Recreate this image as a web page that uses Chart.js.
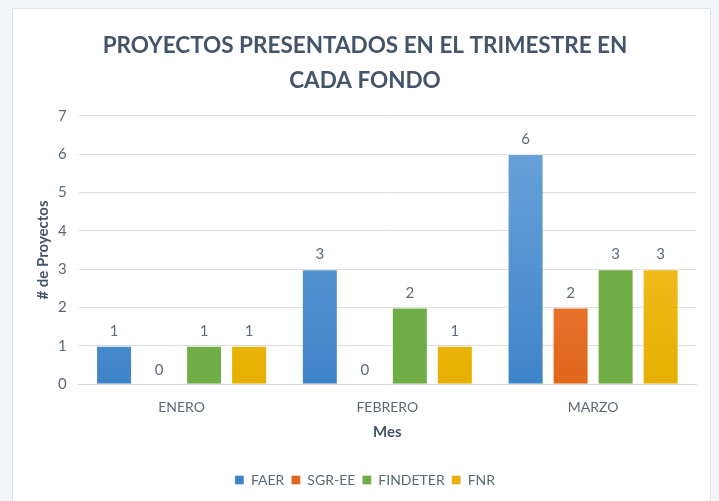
<!DOCTYPE html>
<html>
<head>
<meta charset="utf-8">
<script src="https://cdn.jsdelivr.net/npm/chart.js@4.4.1/dist/chart.umd.min.js"></script>
<style>
  html, body { margin: 0; padding: 0; background: #f3f5f8; width: 719px; height: 501px; overflow: hidden; }
  .panel { position: absolute; left: 12px; top: 8px; width: 699px; height: 500px; background: #fff; border: 1px solid #dde2e8; box-sizing: border-box; }
  canvas { display: block; }
</style>
</head>
<body>
<div class="panel"><canvas id="chart" width="697" height="498"></canvas></div>
<script>
const months = ['ENERO', 'FEBRERO', 'MARZO'];
const faer = [1, 3, 6];
const sgrEe = [0, 0, 2];
const findeter = [1, 2, 3];
const fnr = [1, 1, 3];

// top / bottom gradient colours per series
const seriesColors = [
    ['#6fa5dc', '#3f84c8'],
    ['#f08d58', '#e0661b'],
    ['#70ad47', '#70ad47'],
    ['#ffc73d', '#e5b000']
];

const textColor = '#5e6978';
const titleColor = '#44546a';
const fontFamily = 'Lato, "Open Sans", sans-serif';

function gradientFor(idx) {
    return (ctx) => {
        const area = ctx.chart.chartArea;
        if (!area) return seriesColors[idx][0];
        const g = ctx.chart.ctx.createLinearGradient(0, area.top, 0, area.bottom);
        g.addColorStop(0, seriesColors[idx][0]);
        g.addColorStop(1, seriesColors[idx][1]);
        return g;
    };
}

// draws the value above each bar
const valueLabels = {
    id: 'valueLabels',
    afterDatasetsDraw(chart) {
        const ctx = chart.ctx;
        ctx.save();
        ctx.font = '15px ' + fontFamily;
        ctx.fillStyle = textColor;
        ctx.textAlign = 'center';
        ctx.textBaseline = 'bottom';
        chart.data.datasets.forEach((ds, i) => {
            chart.getDatasetMeta(i).data.forEach((bar, j) => {
                ctx.fillText(ds.data[j], bar.x, bar.y - 7);
            });
        });
        ctx.restore();
    }
};

function makeSet(label, data, idx) {
    return {
        label,
        data,
        backgroundColor: gradientFor(idx),
        borderColor: 'rgba(255,255,255,0.35)',
        borderWidth: 1,
        categoryPercentage: 0.875,
        barPercentage: 0.8
    };
}

new Chart(document.getElementById('chart'), {
    type: 'bar',
    data: {
        labels: months,
        datasets: [
            makeSet('FAER', faer, 0),
            makeSet('SGR-EE', sgrEe, 1),
            makeSet('FINDETER', findeter, 2),
            makeSet('FNR', fnr, 3)
        ]
    },
    options: {
        responsive: false,
        animation: false,
        layout: { padding: { left: 21, right: 14, top: 6, bottom: 10 } },
        scales: {
            x: {
                grid: { display: false },
                border: { color: '#d9d9d9' },
                ticks: { color: textColor, font: { family: fontFamily, size: 14 }, padding: 7 },
                title: { display: true, text: 'Mes', color: titleColor, font: { family: fontFamily, size: 15, weight: 'bold' }, padding: { top: 0, bottom: 25 } }
            },
            y: {
                min: 0,
                max: 7,
                afterFit: (s) => { s.width -= 6; },
                ticks: { stepSize: 1, color: textColor, font: { family: fontFamily, size: 15 }, padding: 12 },
                grid: { color: '#dcdcdc', drawTicks: false },
                border: { display: false },
                title: { display: true, text: '# de Proyectos', color: titleColor, font: { family: fontFamily, size: 15, weight: 'bold' }, padding: 0 }
            }
        },
        plugins: {
            title: {
                display: true,
                text: ['PROYECTOS PRESENTADOS EN EL TRIMESTRE EN', 'CADA FONDO'],
                color: titleColor,
                font: { family: fontFamily, size: 22.5, weight: 'bold', lineHeight: 1.55 },
                padding: { top: 13, bottom: 18 }
            },
            legend: {
                position: 'bottom',
                labels: { boxWidth: 9, boxHeight: 9, color: textColor, font: { family: fontFamily, size: 14 }, padding: 7 }
            },
            tooltip: { enabled: false }
        }
    },
    plugins: [valueLabels]
});
</script>
</body>
</html>
